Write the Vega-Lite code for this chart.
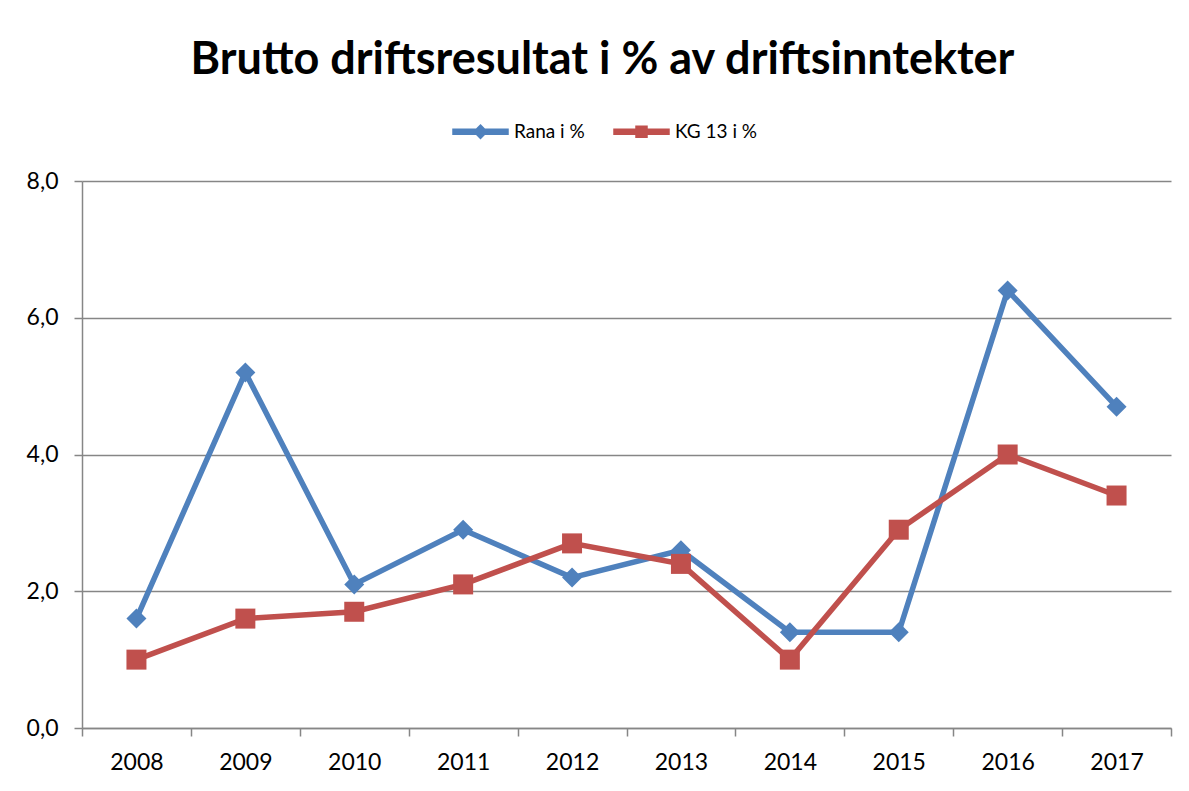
{
  "$schema": "https://vega.github.io/schema/vega-lite/v6.json",
  "width": 1089,
  "height": 547,
  "autosize": {"type": "none"},
  "padding": {"left": 82, "top": 181, "right": 18, "bottom": 63},
  "background": "white",
  "title": {
    "text": "Brutto driftsresultat i % av driftsinntekter",
    "font": "Lato",
    "fontSize": 45,
    "fontWeight": "bold",
    "color": "black",
    "anchor": "middle",
    "frame": "group",
    "baseline": "alphabetic",
    "offset": -16,
    "dx": -24
  },
  "data": {
    "values": [
      {"year": "2008", "series": "Rana i %", "value": 1.6},
      {"year": "2009", "series": "Rana i %", "value": 5.2},
      {"year": "2010", "series": "Rana i %", "value": 2.1},
      {"year": "2011", "series": "Rana i %", "value": 2.9},
      {"year": "2012", "series": "Rana i %", "value": 2.2},
      {"year": "2013", "series": "Rana i %", "value": 2.6},
      {"year": "2014", "series": "Rana i %", "value": 1.4},
      {"year": "2015", "series": "Rana i %", "value": 1.4},
      {"year": "2016", "series": "Rana i %", "value": 6.4},
      {"year": "2017", "series": "Rana i %", "value": 4.7},
      {"year": "2008", "series": "KG 13 i %", "value": 1.0},
      {"year": "2009", "series": "KG 13 i %", "value": 1.6},
      {"year": "2010", "series": "KG 13 i %", "value": 1.7},
      {"year": "2011", "series": "KG 13 i %", "value": 2.1},
      {"year": "2012", "series": "KG 13 i %", "value": 2.7},
      {"year": "2013", "series": "KG 13 i %", "value": 2.4},
      {"year": "2014", "series": "KG 13 i %", "value": 1.0},
      {"year": "2015", "series": "KG 13 i %", "value": 2.9},
      {"year": "2016", "series": "KG 13 i %", "value": 4.0},
      {"year": "2017", "series": "KG 13 i %", "value": 3.4}
    ]
  },
  "encoding": {
    "x": {
      "field": "year",
      "type": "ordinal",
      "scale": {"type": "band", "paddingInner": 0, "paddingOuter": 0},
      "axis": {
        "title": null,
        "labelAngle": 0,
        "tickBand": "extent",
        "grid": false,
        "domainColor": "#868686",
        "domainWidth": 1.5,
        "tickColor": "#868686",
        "tickWidth": 1.5,
        "tickSize": 8,
        "labelPadding": 15,
        "labelFont": "Lato",
        "labelFontSize": 23,
        "labelColor": "black"
      }
    },
    "y": {
      "field": "value",
      "type": "quantitative",
      "scale": {"domain": [0, 8], "nice": false},
      "axis": {
        "title": null,
        "values": [0, 2, 4, 6, 8],
        "labelExpr": "replace(format(datum.value, '.1f'), '.', ',')",
        "grid": true,
        "gridColor": "#868686",
        "gridWidth": 1.5,
        "domainColor": "#868686",
        "domainWidth": 1.5,
        "tickColor": "#868686",
        "tickWidth": 1.5,
        "tickSize": 8,
        "labelPadding": 16,
        "labelFont": "Lato",
        "labelFontSize": 23,
        "labelColor": "black"
      }
    },
    "color": {
      "field": "series",
      "type": "nominal",
      "scale": {"domain": ["Rana i %", "KG 13 i %"], "range": ["#4F81BD", "#C0504D"]},
      "legend": {
        "title": null,
        "orient": "none",
        "direction": "horizontal",
        "legendX": 370,
        "legendY": -78,
        "symbolSize": 3025,
        "labelFont": "Lato",
        "labelFontSize": 19,
        "labelColor": "black",
        "columnPadding": 26,
        "labelOffset": 5
      }
    }
  },
  "layer": [
    {
      "mark": {"type": "line", "strokeWidth": 5.5}
    },
    {
      "transform": [{"filter": "datum.series == 'Rana i %'"}],
      "mark": {"type": "point", "filled": true, "opacity": 1, "size": 400, "shape": "diamond"}
    },
    {
      "transform": [{"filter": "datum.series == 'KG 13 i %'"}],
      "mark": {"type": "point", "filled": true, "opacity": 1, "size": 400, "shape": "square"}
    },
    {
      "transform": [{"filter": "datum.value < -100"}],
      "mark": {"type": "point", "filled": true, "opacity": 1, "size": 3025},
      "encoding": {
        "shape": {
          "field": "series",
          "type": "nominal",
          "scale": {"domain": ["Rana i %", "KG 13 i %"], "range": ["M-1,-0.09H1V0.09H-1Z M0,-0.24L0.24,0L0,0.24L-0.24,0Z", "M-1,-0.09H1V0.09H-1Z M-0.2,-0.2H0.2V0.2H-0.2Z"]},
          "legend": {
            "title": null,
            "orient": "none",
            "direction": "horizontal",
            "legendX": 370,
            "legendY": -78,
            "symbolSize": 3025,
            "labelFont": "Lato",
            "labelFontSize": 19,
            "labelColor": "black",
            "columnPadding": 26,
            "labelOffset": 5
          }
        }
      }
    }
  ],
  "config": {"view": {"stroke": null}}
}
